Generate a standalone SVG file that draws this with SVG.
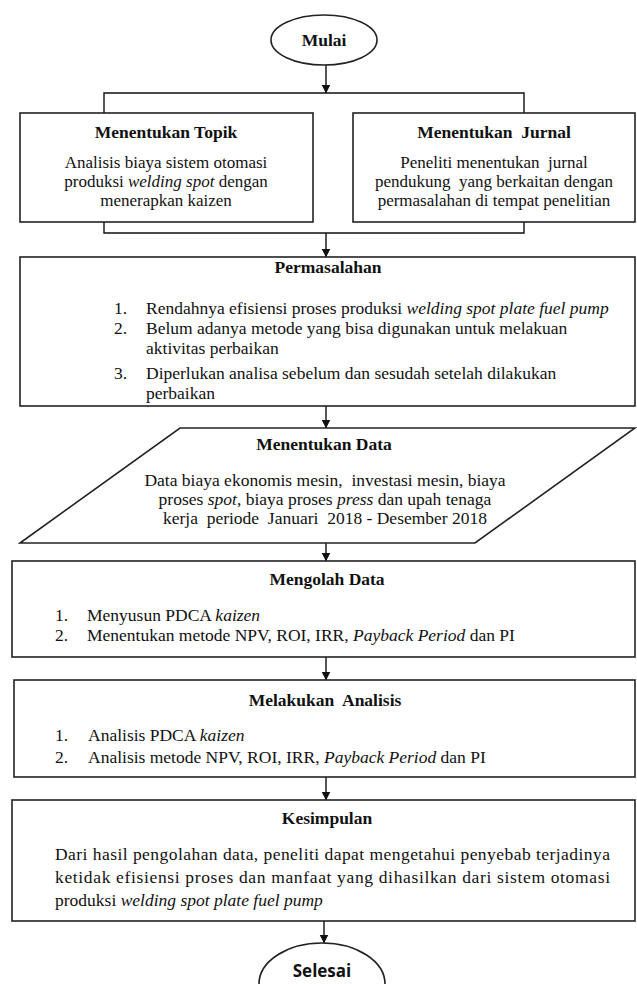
<svg xmlns="http://www.w3.org/2000/svg" width="637" height="984" viewBox="0 0 637 984">
<defs>
<marker id="ah" markerWidth="9" markerHeight="10" refX="8.5" refY="4.5" orient="auto" markerUnits="userSpaceOnUse">
<path d="M0,0 L9,4.5 L0,9 Z" fill="#111"/>
</marker>
<style>
.s{fill:#fff;stroke:#222;stroke-width:1.6}
.c{fill:none;stroke:#111;stroke-width:1.4}
.t{font-family:"Liberation Serif","Times New Roman",serif;font-size:17.5px;fill:#111;white-space:pre}
.k{font-size:17px}
.b{font-weight:bold}
.m{text-anchor:middle}
.i{font-style:italic}
.sans{font-family:"Open Sans","Noto Sans",sans-serif;font-size:17px;font-weight:bold;fill:#111}
</style>
</defs>
<rect width="637" height="984" fill="#fff"/>
<g id="connectors">
<line class="c" x1="326" y1="65" x2="326" y2="93" marker-end="url(#ah)"/>
<polyline class="c" points="104,113 104,93 524,93 524,113"/>
<polyline class="c" points="104,222 104,233 524,233 524,222"/>
<line class="c" x1="326" y1="233" x2="326" y2="257" marker-end="url(#ah)"/>
<line class="c" x1="326" y1="406" x2="326" y2="428" marker-end="url(#ah)"/>
<line class="c" x1="326" y1="543" x2="326" y2="561" marker-end="url(#ah)"/>
<line class="c" x1="326" y1="657" x2="326" y2="680" marker-end="url(#ah)"/>
<line class="c" x1="326" y1="777" x2="326" y2="800" marker-end="url(#ah)"/>
<line class="c" x1="324" y1="921" x2="324" y2="943" marker-end="url(#ah)"/>
</g>
<g id="mulai">
<ellipse class="s" cx="324" cy="40" rx="53" ry="25"/>
<text class="t b m" x="324" y="46">Mulai</text>
</g>
<g id="topik">
<rect class="s" x="20" y="113" width="293" height="109"/>
<text class="t b m" x="166" y="138">Menentukan Topik</text>
<text class="t k m" x="166" y="168">Analisis biaya sistem otomasi</text>
<text class="t k m" x="166" y="187">produksi <tspan class="i">welding spot</tspan> dengan</text>
<text class="t k m" x="166" y="206">menerapkan kaizen</text>
</g>
<g id="jurnal">
<rect class="s" x="353" y="113" width="282" height="109"/>
<text class="t b m" x="494" y="138">Menentukan  Jurnal</text>
<text class="t k m" x="494" y="168">Peneliti menentukan  jurnal</text>
<text class="t k m" x="494" y="187">pendukung  yang berkaitan dengan</text>
<text class="t k m" x="494" y="206">permasalahan di tempat penelitian</text>
</g>
<g id="permasalahan">
<rect class="s" x="20" y="257" width="615" height="149"/>
<text class="t b m" x="328" y="273">Permasalahan</text>
<text class="t" x="114" y="314">1.</text>
<text class="t" x="146" y="314">Rendahnya efisiensi proses produksi <tspan class="i">welding spot plate fuel pump</tspan></text>
<text class="t" x="114" y="334">2.</text>
<text class="t" x="146" y="334">Belum adanya metode yang bisa digunakan untuk melakuan</text>
<text class="t" x="146" y="354">aktivitas perbaikan</text>
<text class="t" x="114" y="379">3.</text>
<text class="t" x="146" y="379">Diperlukan analisa sebelum dan sesudah setelah dilakukan</text>
<text class="t" x="146" y="399">perbaikan</text>
</g>
<g id="data">
<polygon class="s" points="180,428 635,428 475,543 20,543"/>
<text class="t b m" x="324" y="450">Menentukan Data</text>
<text class="t m" x="325" y="486">Data biaya ekonomis mesin,  investasi mesin, biaya</text>
<text class="t m" x="325" y="505">proses <tspan class="i">spot</tspan>, biaya proses <tspan class="i">press</tspan> dan upah tenaga</text>
<text class="t m" x="325" y="524">kerja  periode  Januari  2018 - Desember 2018</text>
</g>
<g id="mengolah">
<rect class="s" x="12" y="561" width="623" height="96"/>
<text class="t b m" x="327" y="585">Mengolah Data</text>
<text class="t" x="55" y="621">1.</text>
<text class="t" x="87" y="621">Menyusun PDCA <tspan class="i">kaizen</tspan></text>
<text class="t" x="55" y="641">2.</text>
<text class="t" x="87" y="641">Menentukan metode NPV, ROI, IRR, <tspan class="i">Payback Period</tspan> dan PI</text>
</g>
<g id="analisis">
<rect class="s" x="14" y="680" width="621" height="97"/>
<text class="t b m" x="325" y="706">Melakukan  Analisis</text>
<text class="t" x="55" y="741">1.</text>
<text class="t" x="88" y="741">Analisis PDCA <tspan class="i">kaizen</tspan></text>
<text class="t" x="55" y="763">2.</text>
<text class="t" x="88" y="763">Analisis metode NPV, ROI, IRR, <tspan class="i">Payback Period</tspan> dan PI</text>
</g>
<g id="kesimpulan">
<rect class="s" x="12" y="800" width="623" height="121"/>
<text class="t b m" x="327" y="824">Kesimpulan</text>
<text class="t" x="55" y="860" textLength="555" lengthAdjust="spacing">Dari hasil pengolahan data, peneliti dapat mengetahui penyebab terjadinya</text>
<text class="t" x="55" y="883" textLength="555" lengthAdjust="spacing">ketidak efisiensi proses dan manfaat yang dihasilkan dari sistem otomasi</text>
<text class="t" x="55" y="906">produksi <tspan class="i">welding spot plate fuel pump</tspan></text>
</g>
<g id="selesai">
<ellipse class="s" cx="322" cy="984" rx="63" ry="41"/>
<text class="sans" x="322" y="977" text-anchor="middle">Selesai</text>
</g>
</svg>
